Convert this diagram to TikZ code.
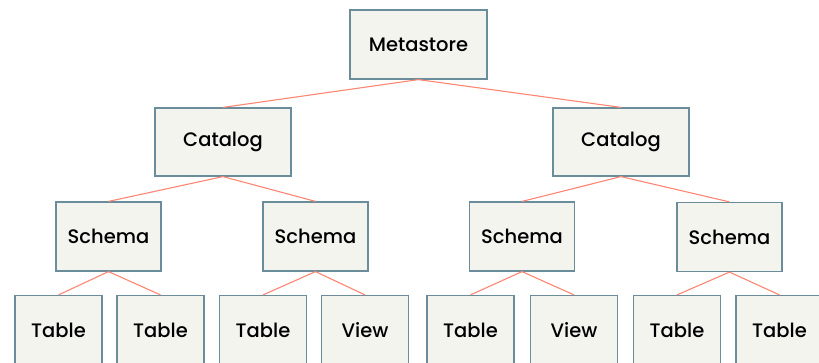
\documentclass[tikz,border=0pt]{standalone}
\usepackage{fontspec}
\setmainfont{Poppins}[UprightFont={* Medium}]
\definecolor{boxfill}{HTML}{F4F4EF}
\definecolor{boxedge}{HTML}{6A8C9B}
\definecolor{linkcol}{HTML}{FF8672}
\begin{document}
\begin{tikzpicture}[x=1pt,y=-1pt,
  box/.style={draw=boxedge,fill=boxfill,line width=1.2pt,inner sep=0pt,
    font=\fontsize{19.5}{22}\selectfont,text=black},
  topbox/.style={box,minimum width=137pt,minimum height=69pt},
  catbox/.style={box,minimum width=136pt,minimum height=68pt},
  schbox/.style={box,minimum width=105pt,minimum height=69pt},
  leafbox/.style={box,minimum width=87pt,minimum height=69pt},
  link/.style={draw=linkcol,line width=1.1pt}]
\useasboundingbox (0,0) rectangle (819,362);
\clip (0,0) rectangle (819,362);
% root
\node[topbox] (ms) at (418.5,44.5) {Metastore};
% catalogs
\node[catbox] (c1) at (223,142) {Catalog};
\node[catbox] (c2) at (621,142) {Catalog};
% schemas
\node[schbox] (s1) at (108.5,236.5) {Schema};
\node[schbox] (s2) at (315.5,236.5) {Schema};
\node[schbox] (s3) at (522,236.5) {Schema};
\node[schbox] (s4) at (729.5,237) {Schema};
% leaves
\node[leafbox] (t1) at (58.5,330) {Table};
\node[leafbox] (t2) at (160.5,330) {Table};
\node[leafbox] (t3) at (263,330) {Table};
\node[leafbox] (v1) at (365,330) {View};
\node[leafbox] (t4) at (470.5,330) {Table};
\node[leafbox] (v2) at (574,330) {View};
\node[leafbox] (t5) at (677,330) {Table};
\node[leafbox] (t6) at (779.5,330) {Table};
% connectors
\foreach \p/\c in {ms/c1,ms/c2,c1/s1,c1/s2,c2/s3,c2/s4,
                   s1/t1,s1/t2,s2/t3,s2/v1,s3/t4,s3/v2,s4/t5,s4/t6}
  \draw[link] (\p.south) -- (\c.north);
\end{tikzpicture}
\end{document}
